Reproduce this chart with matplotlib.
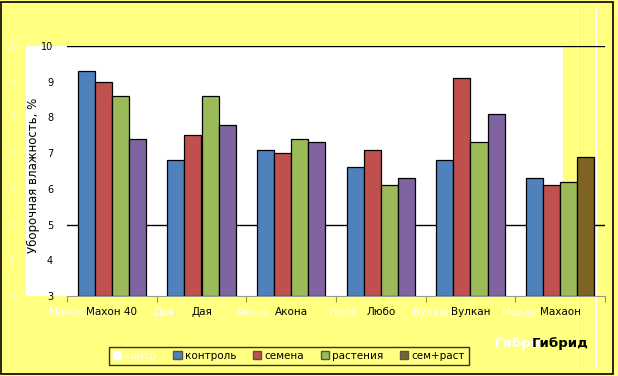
import matplotlib.pyplot as plt
from matplotlib.patches import Rectangle, Patch

hybrids = ['Махон 40', 'Дая', 'Акона', 'Любо', 'Вулкан', 'Махаон']
series = ['контроль', 'семена', 'растения', 'сем+раст']
kontrol = [9.3, 6.8, 7.1, 6.6, 6.8, 6.3]
semena = [9.0, 7.5, 7.0, 7.1, 9.1, 6.1]
rasteniya = [8.6, 8.6, 7.4, 6.1, 7.3, 6.2]
sem_rast = [7.4, 7.8, 7.3, 6.3, 8.1, 6.9]
yticks = [3, 4, 5, 6, 7, 8, 9, 10]

colors = ['#4F81BD', '#C0504D', '#9BBB59', '#8064A2']
yellow = '#FFFF80'
W, H = 618, 376

fig = plt.figure(figsize=(W / 100, H / 100), dpi=100, facecolor=yellow)
plt.rcParams['font.family'] = ['DejaVu Sans']

def fx(px):
    return px / W

def fy(py):
    return 1 - py / H

# white plot area and border
fig.patches.append(Rectangle((fx(26), fy(296)), fx(563 - 26), (296 - 46) / H,
                             transform=fig.transFigure, facecolor='white', edgecolor='none', zorder=-5))
fig.patches.append(Rectangle((fx(1), fy(374)), fx(612), 372 / H, transform=fig.transFigure,
                             facecolor='none', edgecolor='black', lw=1.2, zorder=5))
for xx in [577, 596]:
    fig.lines.append(plt.Line2D([fx(xx), fx(xx)], [0.02, 0.98], transform=fig.transFigure,
                                color='white', lw=0.8, zorder=-4))

ax = fig.add_axes([fx(67), fy(296), fx(538), 250 / H])
ax.set_facecolor('none')
ax.set_zorder(2)

data = [kontrol, semena, rasteniya, sem_rast]
w = 0.19
for i, vals in enumerate(data):
    for j, v in enumerate(vals):
        c = colors[i]
        if i == 3 and j == 5:
            c = '#7F6323'
        ax.bar(j + (i - 1.5) * w, v - 3, bottom=3, width=w, color=c,
               edgecolor='black', linewidth=0.9, zorder=3)

ax.axhline(10, color='black', lw=1, zorder=1)
ax.axhline(5, color='black', lw=1, zorder=1)
ax.set_xlim(-0.5, 5.5)
ax.set_ylim(3, 10)
ax.set_yticks(yticks)
ax.set_yticklabels([str(t) for t in yticks], fontsize=7)
ax.tick_params(axis='y', length=0, pad=10)
ax.set_xticks([k + 0.5 for k in range(-1, 6)])
ax.set_xticklabels([])
ax.tick_params(axis='x', length=4, color='#999933')
for j, name in enumerate(hybrids):
    ax.text(j - 0.42, 2.55, name, ha='center', va='center', fontsize=7.5, color='white')
    ax.text(j, 2.55, name, ha='center', va='center', fontsize=7.5, color='black')
for s in ['left', 'right', 'top']:
    ax.spines[s].set_visible(False)
ax.spines['bottom'].set_color('#999999')

# ghost y labels on the left
for t in yticks:
    y = 296 - (t - 3) * 250 / 7
    fig.text(fx(12), fy(y), str(t), fontsize=7, color='#FFFFC8', ha='center', va='center')

fig.text(fx(33), fy(175), 'Уборочная влажность, %', rotation=90, fontsize=8.5,
         ha='center', va='center', zorder=3)
fig.text(fx(518), fy(344), 'Гибри', fontsize=9.5, fontweight='bold', ha='center', va='center',
         color='white')
fig.text(fx(560), fy(344), 'Гибрид', fontsize=9.5, fontweight='bold', ha='center', va='center')

handles = [Patch(facecolor='white', edgecolor='white')]
handles += [Patch(facecolor=c, edgecolor='#555555') for c in colors[:3]]
handles.append(Patch(facecolor='#7F6323', edgecolor='#555555'))
labels = ['контр'] + series
leg = fig.legend(handles, labels, loc='center', bbox_to_anchor=(fx(289), fy(356)), ncol=5,
                 fontsize=7.5, frameon=True, fancybox=False, handlelength=0.8, handleheight=0.8,
                 handletextpad=0.3, columnspacing=1.6, borderpad=0.4)
leg.get_texts()[0].set_color('white')
leg.get_frame().set_facecolor(yellow)
leg.get_frame().set_edgecolor('black')

fig.savefig('out.png', dpi=100, facecolor=yellow)
